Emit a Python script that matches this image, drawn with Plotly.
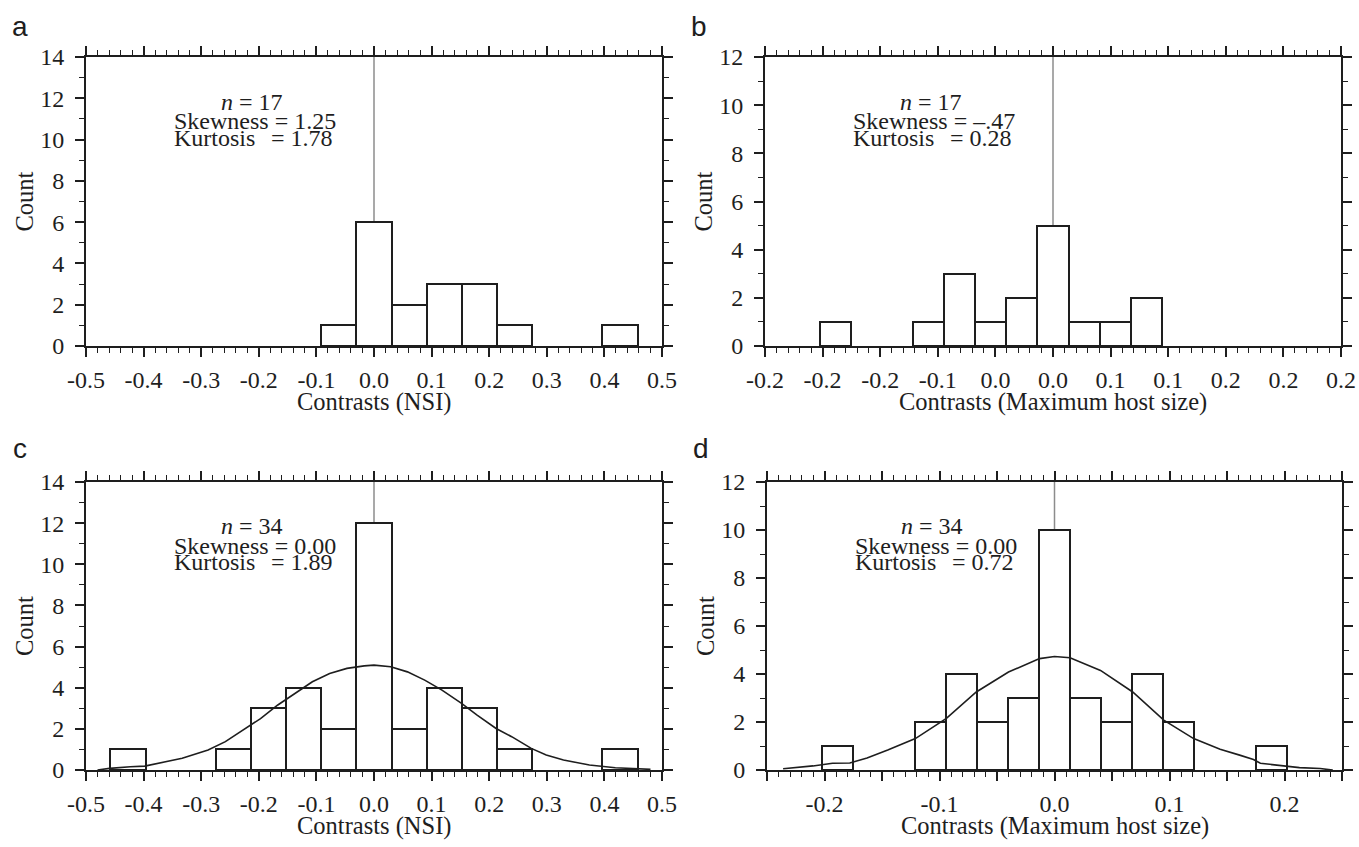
import plotly.graph_objects as go

# ---------------- data ----------------
# Panel a: Contrasts (NSI), n = 17
a_bins = [-0.061, 0.0, 0.061, 0.122, 0.183, 0.244, 0.427]
a_counts = [1, 6, 2, 3, 3, 1, 1]
# Panel b: Contrasts (Maximum host size), n = 17
b_bins = [-0.189, -0.108, -0.081, -0.054, -0.027, 0.0, 0.027, 0.054, 0.081]
b_counts = [1, 1, 3, 1, 2, 5, 1, 1, 2]
# Panel c: Contrasts (NSI), n = 34
c_bins = [-0.427, -0.244, -0.183, -0.122, -0.061, 0.0, 0.061, 0.122, 0.183, 0.244, 0.427]
c_counts = [1, 1, 3, 4, 2, 12, 2, 4, 3, 1, 1]
# Panel d: Contrasts (Maximum host size), n = 34
d_bins = [-0.189, -0.108, -0.081, -0.054, -0.027, 0.0, 0.027, 0.054, 0.081, 0.108, 0.189]
d_counts = [1, 2, 4, 2, 3, 10, 3, 2, 4, 2, 1]

# fitted normal curves
c_curve_x = [-0.48, -0.459, -0.423, -0.398, -0.333, -0.288, -0.258, -0.228, -0.197, -0.167,
             -0.137, -0.107, -0.077, -0.047, -0.017, 0.0, 0.029, 0.058, 0.088, 0.118,
             0.152, 0.179, 0.212, 0.239, 0.273, 0.299, 0.329, 0.374, 0.419, 0.464, 0.48]
c_curve_y = [0.0, 0.08, 0.16, 0.19, 0.57, 0.97, 1.38, 1.94, 2.5, 3.16,
             3.72, 4.29, 4.69, 4.94, 5.06, 5.1, 5.02, 4.77, 4.37, 3.88,
             3.24, 2.67, 2.02, 1.62, 1.05, 0.73, 0.49, 0.24, 0.11, 0.06, 0.03]
d_curve_x = [-0.236, -0.21, -0.193, -0.178, -0.163, -0.152, -0.145, -0.121, -0.094, -0.068,
             -0.040, -0.013, 0.0, 0.0135, 0.040, 0.068, 0.095, 0.121, 0.144, 0.161,
             0.173, 0.179, 0.196, 0.213, 0.231, 0.242]
d_curve_y = [0.05, 0.17, 0.28, 0.29, 0.5, 0.69, 0.83, 1.31, 2.15, 3.25,
             4.08, 4.64, 4.73, 4.68, 4.15, 3.25, 2.08, 1.31, 0.86, 0.62,
             0.44, 0.28, 0.18, 0.1, 0.06, 0.0]

nsi_ticks = [-0.5, -0.4, -0.3, -0.2, -0.1, 0.0, 0.1, 0.2, 0.3, 0.4, 0.5]
nsi_labels = ["-0.5", "-0.4", "-0.3", "-0.2", "-0.1", "0.0", "0.1", "0.2", "0.3", "0.4", "0.5"]
host_ticks = [-0.25, -0.2, -0.15, -0.1, -0.05, 0.0, 0.05, 0.1, 0.15, 0.2, 0.25]
host_labels_b = ["-0.2", "-0.2", "-0.2", "-0.1", "0.0", "0.0", "0.1", "0.1", "0.2", "0.2", "0.2"]
host_labels_d = ["", "-0.2", "", "-0.1", "", "0.0", "", "0.1", "", "0.2", ""]

stats = {
    "a": ("17", "1.25", "1.78"),
    "b": ("17", "\u2013.47", "0.28"),
    "c": ("34", "0.00", "1.89"),
    "d": ("34", "0.00", "0.72"),
}
x_titles = {"a": "Contrasts (NSI)", "b": "Contrasts (Maximum host size)",
            "c": "Contrasts (NSI)", "d": "Contrasts (Maximum host size)"}

NSI_W = 0.061
HOST_W = 0.027

# ---------------- layout geometry (pixels) ----------------
W, H = 1359, 847
SERIF = "Liberation Serif, Times New Roman, serif"
SANS = "Liberation Sans, Arial, sans-serif"
FS = 24
FS_TITLE = 24.5
INK = "#1e1e1e"

panels = {
    "a": (86, 662, 57, 346, [-0.5, 0.5], 14, nsi_ticks, nsi_labels, 0.02, a_bins, a_counts, NSI_W, None, 30.5),
    "b": (765, 1341, 57, 346, [-0.25, 0.25], 12, host_ticks, host_labels_b, 0.01, b_bins, b_counts, HOST_W, None, 30.5),
    "c": (86, 662, 482, 770, [-0.5, 0.5], 14, nsi_ticks, nsi_labels, 0.02, c_bins, c_counts, NSI_W, (c_curve_x, c_curve_y), 33.5),
    "d": (767, 1342, 482, 770, [-0.25, 0.25], 12, host_ticks, host_labels_d, 0.01, d_bins, d_counts, HOST_W, (d_curve_x, d_curve_y), 33.5),
}

fig = go.Figure()
layout = dict(
    width=W, height=H, autosize=False,
    margin=dict(l=0, r=0, t=0, b=0, pad=0),
    paper_bgcolor="white", plot_bgcolor="white",
    showlegend=False,
    font=dict(family=SERIF, size=FS, color=INK),
)
shapes = []
annotations = []

for i, (name, p) in enumerate(panels.items(), start=1):
    x0, x1, yt, yb, xr, ymax, tv, tt, mdt, bins, counts, bw, curve, letter_up = p
    xa = "xaxis" if i == 1 else f"xaxis{i}"
    ya = "yaxis" if i == 1 else f"yaxis{i}"
    xref = "x" if i == 1 else f"x{i}"
    yref = "y" if i == 1 else f"y{i}"
    axis_common = dict(
        showline=True, linewidth=2, linecolor=INK, mirror="allticks",
        ticks="outside", ticklen=9, tickwidth=1.6, tickcolor=INK,
        showgrid=False, zeroline=False, automargin=False, fixedrange=True,
        tickfont=dict(family=SERIF, size=FS, color=INK),
    )
    layout[xa] = dict(
        axis_common, domain=[x0 / W, x1 / W], range=xr, anchor=yref,
        tickmode="array", tickvals=tv, ticktext=tt, ticklabelstandoff=2,
        minor=dict(ticks="outside", ticklen=5, tickwidth=1.4, tickcolor=INK,
                   tick0=xr[0], dtick=mdt, showgrid=False),
    )
    layout[ya] = dict(
        axis_common, domain=[1 - yb / H, 1 - yt / H], range=[0, ymax], anchor=xref,
        tickmode="linear", tick0=0, dtick=2, ticklabelstandoff=6,
        minor=dict(ticks="outside", ticklen=5, tickwidth=1.4, tickcolor=INK,
                   tick0=0, dtick=1, showgrid=False),
    )
    # gray reference line at zero
    shapes.append(dict(type="line", xref=xref, yref=yref, x0=0, x1=0, y0=0, y1=ymax,
                       line=dict(color="#8c8c8c", width=1.5), layer="below"))
    fig.add_trace(go.Bar(x=bins, y=counts, width=bw, xaxis=xref, yaxis=yref,
                         marker=dict(color="white", line=dict(color=INK, width=2)),
                         hoverinfo="x+y"))
    if curve is not None:
        fig.add_trace(go.Scatter(x=curve[0], y=curve[1], mode="lines", xaxis=xref, yaxis=yref,
                                 line=dict(color=INK, width=1.6)))
    # stats text
    n, sk, ku = stats[name]
    dom = f"{xref} domain"
    ydom = f"{yref} domain"
    annotations.append(dict(xref=dom, yref=ydom, x=165.5 / 576, y=(346 - 101.5) / 289,
                            text=f"<i>n</i> = {n}", showarrow=False,
                            xanchor="center", yanchor="middle", font=dict(size=FS)))
    annotations.append(dict(xref=dom, yref=ydom, x=86 / 576, y=(346 - 120.8) / 289,
                            text=f"Skewness = {sk}", showarrow=False, xanchor="left",
                            yanchor="middle", font=dict(size=FS)))
    annotations.append(dict(xref=dom, yref=ydom, x=86 / 576, y=(346 - 137.5) / 289,
                            text="Kurtosis", showarrow=False, xanchor="left",
                            yanchor="middle", font=dict(size=FS)))
    annotations.append(dict(xref=dom, yref=ydom, x=249 / 576, y=(346 - 137.5) / 289,
                            text=f"= {ku}", showarrow=False, xanchor="right",
                            yanchor="middle", font=dict(size=FS)))
    # axis titles
    annotations.append(dict(xref="paper", yref="paper", x=(x0 + x1) / 2 / W, y=1 - (yb + 56) / H,
                            text=x_titles[name], showarrow=False, xanchor="center", yanchor="middle",
                            font=dict(size=FS_TITLE)))
    annotations.append(dict(xref="paper", yref="paper", x=(x0 - 62) / W, y=1 - (yt + yb) / 2 / H,
                            text="Count", textangle=-90, showarrow=False, xanchor="center",
                            yanchor="middle", font=dict(size=FS_TITLE)))
    # panel letter
    annotations.append(dict(xref="paper", yref="paper", x=(x0 - 66) / W, y=1 - (yt - letter_up) / H,
                            text=name, showarrow=False, xanchor="center", yanchor="middle",
                            font=dict(family=SANS, size=28, color=INK)))

layout["shapes"] = shapes
layout["annotations"] = annotations
layout["bargap"] = 0
fig.update_layout(**layout)
fig.write_html(
    "out.html",
    config={"displayModeBar": False},
    post_script="document.body.style.margin='0';document.body.style.overflow='hidden';",
)
